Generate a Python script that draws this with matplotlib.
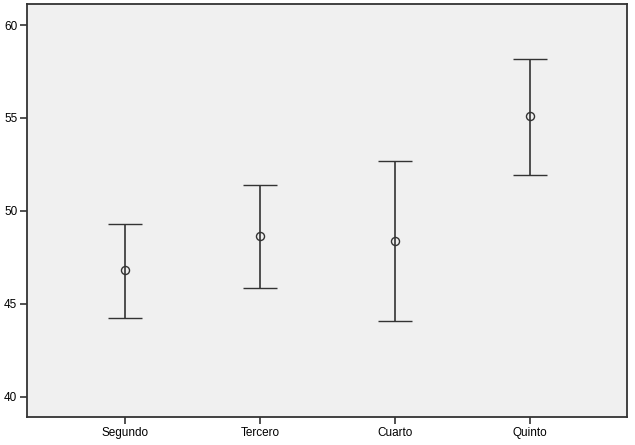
import matplotlib
matplotlib.use("Agg")
import matplotlib.pyplot as plt
import numpy as np

categories = ["Segundo", "Tercero", "Cuarto", "Quinto"]
means = [46.8, 48.64, 48.39, 55.09]
lower = [44.25, 45.88, 44.09, 51.95]
upper = [49.30, 51.41, 52.69, 58.19]
yticks = [40, 45, 50, 55, 60]

plt.rcParams['font.family'] = ['Liberation Sans', 'DejaVu Sans']

fig = plt.figure(figsize=(6.35, 4.45), dpi=100)
ax = fig.add_axes([27/635, 1-417/445, 600/635, 413/445])
ax.set_facecolor('#f0f0f0')

x = np.arange(len(categories))
m = np.array(means)
err = np.vstack([m - np.array(lower), np.array(upper) - m])
ax.errorbar(x, m, yerr=err, fmt='o', mfc='none', mec='#333333', ms=5.8, mew=1.0,
            ecolor='#333333', elinewidth=1.2, capsize=12, capthick=1.2)

ax.set_xlim(-0.73, 3.72)
ax.set_ylim(38.92, 61.13)
ax.set_xticks(x)
ax.set_xticklabels(categories)
ax.set_yticks(yticks)
ax.tick_params(direction='out', length=5, width=1.2, color='#333333', labelsize=8.5, colors='black', pad=2)
for s in ax.spines.values():
    s.set_color('#333333')
    s.set_linewidth(1.3)

fig.savefig("out.png", dpi=100)
